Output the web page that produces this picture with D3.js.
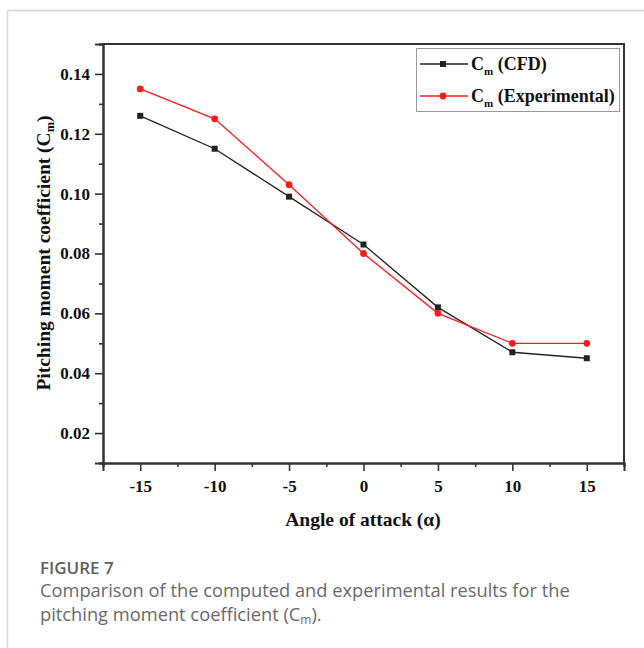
<!DOCTYPE html>
<html>
<head>
<meta charset="utf-8">
<script src="https://cdn.jsdelivr.net/npm/d3@7"></script>
<style>
  body { margin: 0; background: #fff; }
  svg { display: block; }
</style>
</head>
<body>
<svg id="chart" width="644" height="648"></svg>
<script>
// angle of attack (deg) and the two Cm series
var angles = [-15, -10, -5, 0, 5, 10, 15]
var cmCFD = [0.126, 0.115, 0.099, 0.083, 0.062, 0.047, 0.045]
var cmExp = [0.135, 0.125, 0.103, 0.080, 0.060, 0.050, 0.050]
var xMajor = [-15, -10, -5, 0, 5, 10, 15]
var xMinor = [-17.5, -12.5, -7.5, -2.5, 2.5, 7.5, 12.5, 17.5]
var yMajor = [0.02, 0.04, 0.06, 0.08, 0.10, 0.12, 0.14]
var yMinor = [0.01, 0.03, 0.05, 0.07, 0.09, 0.11, 0.13, 0.15]

var svg = d3.select("#chart")
var serif = "'Liberation Serif', 'Times New Roman', serif"

// outer figure frame (light grey, runs off right/bottom)
svg.append("path")
  .attr("d", "M7.5,648 V10.5 H644")
  .attr("fill", "none").attr("stroke", "#d6d6d6").attr("stroke-width", 1.5)

var x = d3.scaleLinear().domain([-17.5, 17.5]).range([103, 624])
var y = d3.scaleLinear().domain([0.01, 0.15]).range([463, 44])

// top + right border of plot box
svg.append("path")
  .attr("d", "M" + x(-17.5) + "," + y(0.15) + " H" + x(17.5) + " V" + y(0.01))
  .attr("fill", "none").attr("stroke", "#333").attr("stroke-width", 2)

function styleAxis(g) {
  g.select(".domain").attr("stroke", "#333").attr("stroke-width", 2)
  g.selectAll(".tick line").attr("stroke", "#333").attr("stroke-width", 1.6)
  g.selectAll("text").attr("font-family", serif).attr("font-weight", "bold")
    .attr("font-size", 17).attr("fill", "#111")
}

// x axis (plain hyphen for negatives, like the original)
var gx = svg.append("g").attr("transform", "translate(0," + y(0.01) + ")")
gx.call(d3.axisBottom(x).tickValues(xMajor).tickSize(8).tickPadding(9)
  .tickFormat(function(d) { return String(d) }))
styleAxis(gx)
var gxm = svg.append("g").attr("transform", "translate(0," + y(0.01) + ")")
gxm.call(d3.axisBottom(x).tickValues(xMinor).tickSize(4).tickFormat(""))
styleAxis(gxm)

// y axis
var gy = svg.append("g").attr("transform", "translate(" + x(-17.5) + ",0)")
gy.call(d3.axisLeft(y).tickValues(yMajor).tickSize(8).tickPadding(5)
  .tickFormat(d3.format(".2f")))
styleAxis(gy)
var gym = svg.append("g").attr("transform", "translate(" + x(-17.5) + ",0)")
gym.call(d3.axisLeft(y).tickValues(yMinor).tickSize(4).tickFormat(""))
styleAxis(gym)

// axis titles
svg.append("text")
  .attr("x", 363).attr("y", 526).attr("text-anchor", "middle")
  .attr("font-family", serif).attr("font-weight", "bold").attr("font-size", 19.5)
  .attr("fill", "#111")
  .text("Angle of attack (\u03b1)")

var yt = svg.append("text")
  .attr("transform", "translate(50,253) rotate(-90)")
  .attr("text-anchor", "middle")
  .attr("font-family", serif).attr("font-weight", "bold").attr("font-size", 19.5)
  .attr("fill", "#111")
yt.append("tspan").text("Pitching moment coefficient (C")
yt.append("tspan").attr("font-size", 12.5).attr("dy", 4).text("m")
yt.append("tspan").attr("dy", -4).text(")")

// series
var series = [
  { name: " (CFD)", vals: cmCFD, color: "#222", shape: "square" },
  { name: " (Experimental)", vals: cmExp, color: "#ff1a1a", shape: "circle" }
]

var line = d3.line()
  .x(function(d) { return x(d[0]) })
  .y(function(d) { return y(d[1]) })

function drawMarker(g, cx, cy, s) {
  if (s.shape == "square")
    g.append("rect").attr("x", cx - 3).attr("y", cy - 3).attr("width", 6).attr("height", 6)
      .attr("fill", s.color)
  else
    g.append("circle").attr("cx", cx).attr("cy", cy).attr("r", 3.4).attr("fill", s.color)
}

series.forEach(function(s) {
  var pts = angles.map(function(a, i) { return [a, s.vals[i]] })
  svg.append("path").datum(pts)
    .attr("d", line).attr("fill", "none")
    .attr("stroke", s.color).attr("stroke-width", 1.3)
  var g = svg.append("g")
  pts.forEach(function(p) { drawMarker(g, x(p[0]), y(p[1]), s) })
})

// legend
svg.append("rect")
  .attr("x", 416.5).attr("y", 48.5).attr("width", 203).attr("height", 63)
  .attr("fill", "#fff").attr("stroke", "#999").attr("stroke-width", 1)

series.forEach(function(s, i) {
  var ly = 64 + i * 32
  var g = svg.append("g")
  g.append("line").attr("x1", 420).attr("x2", 468).attr("y1", ly).attr("y2", ly)
    .attr("stroke", s.color).attr("stroke-width", 1.3)
  drawMarker(g, 443, ly, s)
  var t = g.append("text").attr("x", 471).attr("y", ly + 6)
    .attr("font-family", serif).attr("font-weight", "bold").attr("font-size", 18)
    .attr("fill", "#111")
  t.append("tspan").text("C")
  t.append("tspan").attr("font-size", 11).attr("dy", 5).text("m")
  t.append("tspan").attr("dy", -5).text(s.name)
})

// caption
var sans = "'Open Sans', 'Noto Sans', sans-serif"
svg.append("text")
  .attr("x", 40).attr("y", 574)
  .attr("font-family", sans).attr("font-weight", 600).attr("font-size", 17)
  .attr("fill", "#5f5f5f")
  .text("FIGURE 7")
svg.append("text")
  .attr("x", 40).attr("y", 597)
  .attr("font-family", sans).attr("font-size", 18.3)
  .attr("fill", "#6a6a6a")
  .text("Comparison of the computed and experimental results for the")
var cap = svg.append("text")
  .attr("x", 40).attr("y", 621)
  .attr("font-family", sans).attr("font-size", 18.3)
  .attr("fill", "#6a6a6a")
cap.append("tspan").text("pitching moment coefficient (C")
cap.append("tspan").attr("font-size", 12).attr("dy", 3).text("m")
cap.append("tspan").attr("dy", -3).text(").")
</script>
</body>
</html>
